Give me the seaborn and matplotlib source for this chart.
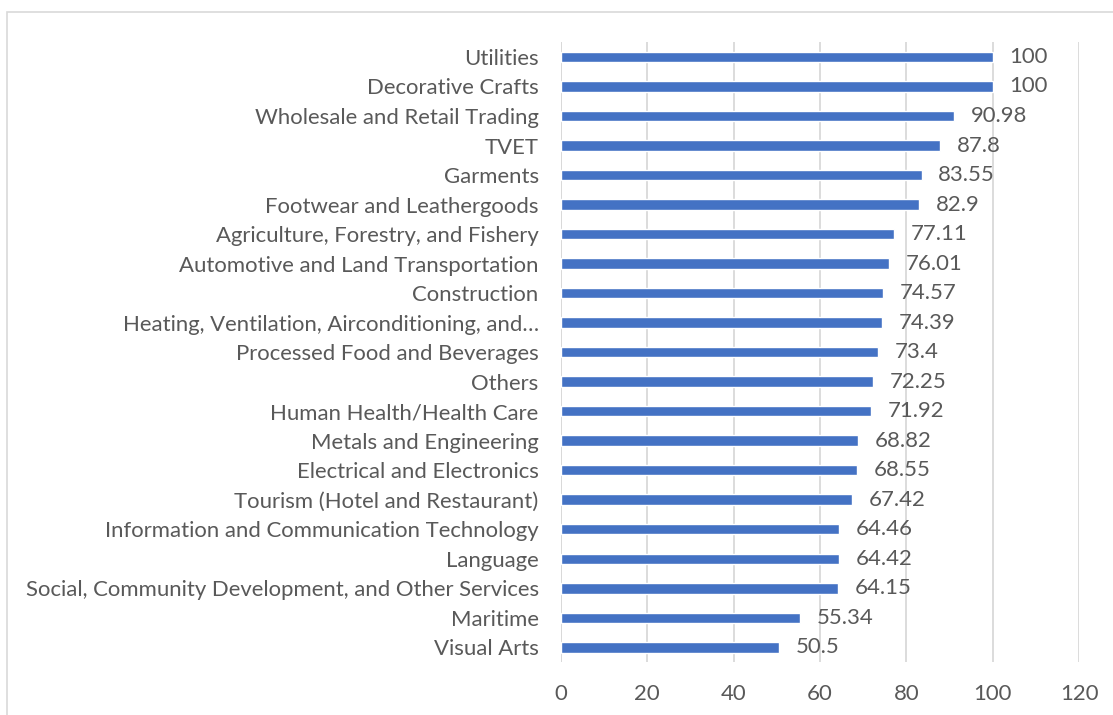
import matplotlib
matplotlib.use("Agg")
import matplotlib.pyplot as plt
from matplotlib.patches import Rectangle
import seaborn as sns
import pandas as pd

# Completion rate by sector (top to bottom as displayed)
sectors = [
    "Utilities",
    "Decorative Crafts",
    "Wholesale and Retail Trading",
    "TVET",
    "Garments",
    "Footwear and Leathergoods",
    "Agriculture, Forestry, and Fishery",
    "Automotive and Land Transportation",
    "Construction",
    "Heating, Ventilation, Airconditioning, and\u2026",
    "Processed Food and Beverages",
    "Others",
    "Human Health/Health Care",
    "Metals and Engineering",
    "Electrical and Electronics",
    "Tourism (Hotel and Restaurant)",
    "Information and Communication Technology",
    "Language",
    "Social, Community Development, and Other Services",
    "Maritime",
    "Visual Arts",
]
values = [100, 100, 90.98, 87.8, 83.55, 82.9, 77.11, 76.01, 74.57, 74.39,
          73.4, 72.25, 71.92, 68.82, 68.55, 67.42, 64.46, 64.42, 64.15,
          55.34, 50.5]
x_ticks = [0, 20, 40, 60, 80, 100, 120]

df = pd.DataFrame({"sector": sectors, "value": values})

sns.set_theme(style="white")
plt.rcParams["font.family"] = ["Lato", "DejaVu Sans"]

text_color = "#595959"
grid_color = "#D9D9D9"
bar_color = "#4472C4"
fs = 15.9

fig = plt.figure(figsize=(11.13, 7.15), dpi=100)
ax = fig.add_axes([0.504, 0.074, 0.4655, 0.867])

sns.barplot(data=df, x="value", y="sector", orient="h", color=bar_color,
            width=0.355, saturation=1, ax=ax, zorder=3)

ax.set_xlim(0, 120)
ax.set_ylim(len(sectors) - 0.5, -0.5)
ax.set_xticks(x_ticks)
ax.set_xticklabels([str(t) for t in x_ticks])
ax.set_xlabel("")
ax.set_ylabel("")
ax.grid(axis="x", color=grid_color, linewidth=1.3, zorder=0)
ax.grid(axis="y", visible=False)
for s in ax.spines.values():
    s.set_visible(False)
ax.axvline(0, color=grid_color, linewidth=1.3, zorder=1)

ax.tick_params(axis="both", length=0, labelsize=fs, labelcolor=text_color)
ax.tick_params(axis="y", pad=16)
ax.tick_params(axis="x", pad=16)

# Value labels at the bar ends
for container in ax.containers:
    labels = [f"{v:g}" for v in values]
    ax.bar_label(container, labels=labels, padding=12, fontsize=fs,
                 color=text_color)

# Chart area border
fig.patches.append(Rectangle((7 / 1113, -0.01), 1.1, 1 - 12 / 715 + 0.01,
                             transform=fig.transFigure, fill=False,
                             edgecolor=grid_color, linewidth=1.2))

fig.savefig("out.png", dpi=100)
